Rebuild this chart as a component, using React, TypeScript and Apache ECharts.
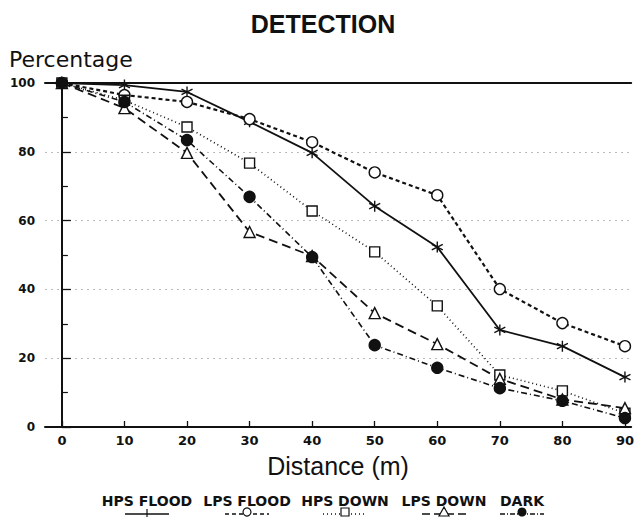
import React, { useEffect, useRef } from "react";
import * as echarts from "echarts";

const distances = [0, 10, 20, 30, 40, 50, 60, 70, 80, 90];
const hpsFlood = [100, 99.4, 97.4, 88.7, 79.7, 64.2, 52.3, 28.2, 23.5, 14.5];
const lpsFlood = [100, 96.5, 94.5, 89.5, 82.8, 74, 67.4, 40.1, 30.2, 23.5];
const hpsDown = [100, 95, 87.2, 76.7, 62.8, 50.9, 35.2, 15.1, 10.5, 4];
const lpsDown = [100, 92.7, 79.7, 56.7, 49.7, 33.1, 24.1, 14, 8, 5.5];
const dark = [100, 94.5, 83.4, 66.9, 49.4, 23.8, 17.2, 11.3, 7.6, 2.6];
const xTicks = [0, 10, 20, 30, 40, 50, 60, 70, 80, 90];
const seriesNames = ["HPS FLOOD", "LPS FLOOD", "HPS DOWN", "LPS DOWN", "DARK"];

const FONT = "'Liberation Sans', Arial, sans-serif";
const WIDE = "'DejaVu Sans', sans-serif";
const STAR = "path://M5,0 L5,10 M0.67,2.5 L9.33,7.5 M0.67,7.5 L9.33,2.5";

export default function App() {
  const ref = useRef<HTMLDivElement>(null);
  useEffect(() => {
    document.body.style.margin = "0";
    const chart = echarts.init(ref.current!, null, { renderer: "svg" });
    const pair = (arr: number[]) => distances.map((d, i) => [d, arr[i]]);
    const base = (name: string, arr: number[], lineType: any, width: number, symbol: string, size: number, fill: string) => ({
      name,
      type: "line",
      data: pair(arr),
      symbol,
      symbolSize: size,
      showAllSymbol: true,
      lineStyle: { color: "#111", width, type: lineType },
      itemStyle: { color: fill, borderColor: "#111", borderWidth: 1.4 },
      z: 3,
    });
    const legendX = [147, 247, 345, 444, 522];
    const legendDash: any[] = [null, [4, 3], [1, 3], [8, 4], [5, 2, 1, 2]];
    const legendSym = ["star", "circle", "rect", "tri", "dot"];
    const legendGraphics: any[] = [];
    seriesNames.forEach((n, i) => {
      const cx = legendX[i];
      legendGraphics.push({
        type: "text",
        x: cx,
        y: 501,
        style: { text: n, font: `bold 14px ${WIDE}`, fill: "#111", textAlign: "center", textVerticalAlign: "middle" },
      });
      legendGraphics.push({
        type: "line",
        shape: { x1: cx - 22, y1: 514, x2: cx + 22, y2: 514 },
        style: { stroke: "#111", lineWidth: 1.4, lineDash: legendDash[i] },
      });
      const s = legendSym[i];
      if (s === "circle") legendGraphics.push({ type: "circle", shape: { cx, cy: 512, r: 4 }, style: { fill: "#fff", stroke: "#111", lineWidth: 1.2 } });
      if (s === "dot") legendGraphics.push({ type: "circle", shape: { cx, cy: 512, r: 4.5 }, style: { fill: "#111" } });
      if (s === "rect") legendGraphics.push({ type: "rect", shape: { x: cx - 4, y: 508, width: 8, height: 8 }, style: { fill: "#fff", stroke: "#111", lineWidth: 1.2 } });
      if (s === "tri") legendGraphics.push({ type: "polygon", shape: { points: [[cx, 507], [cx - 5, 516], [cx + 5, 516]] }, style: { fill: "#fff", stroke: "#111", lineWidth: 1.2 } });
      if (s === "star") legendGraphics.push({ type: "line", shape: { x1: cx, y1: 509, x2: cx, y2: 519 }, style: { stroke: "#111", lineWidth: 1.2 } });
    });

    chart.setOption({
      animation: false,
      backgroundColor: "#fff",
      grid: { left: 45, right: 5, top: 83, bottom: 90, containLabel: false },
      xAxis: [
        {
          type: "value",
          min: -2.7,
          max: 91,
          name: "Distance (m)",
          nameLocation: "middle",
          nameGap: 26,
          nameTextStyle: { fontFamily: FONT, fontSize: 25, color: "#111" },
          axisLine: { show: true, onZero: false, lineStyle: { color: "#111", width: 2 } },
          axisTick: { show: true, inside: true, length: 6, customValues: xTicks, lineStyle: { color: "#111", width: 1.3 } },
          axisLabel: { customValues: xTicks, margin: 7, fontFamily: WIDE, fontWeight: "bold", fontSize: 13, color: "#111" },
          splitLine: { show: false },
        },
        {
          type: "value",
          position: "top",
          min: -2.7,
          max: 91,
          axisLine: { show: true, onZero: false, lineStyle: { color: "#111", width: 2 } },
          axisTick: { show: false },
          axisLabel: { show: false },
          splitLine: { show: false },
        },
      ],
      yAxis: {
        type: "value",
        min: 0,
        max: 100,
        interval: 20,
        axisLine: { show: true, lineStyle: { color: "#111", width: 2 } },
        axisTick: { show: true, inside: true, length: 9, lineStyle: { color: "#111", width: 1.3 } },
        minorTick: { show: true, splitNumber: 2, length: 6, lineStyle: { color: "#111", width: 1.2 } },
        axisLabel: { margin: 10, fontFamily: WIDE, fontWeight: "bold", fontSize: 12, color: "#111" },
        splitLine: { show: true, lineStyle: { color: "#bbb", type: [2, 4], width: 1 } },
      },
      graphic: [
        {
          type: "text",
          x: 323,
          y: 24,
          style: { text: "DETECTION", font: `bold 25px ${FONT}`, fill: "#111", textAlign: "center", textVerticalAlign: "middle" },
        },
        {
          type: "text",
          x: 9,
          y: 59,
          style: { text: "Percentage", font: `22px ${WIDE}`, fill: "#111", textVerticalAlign: "middle" },
        },
        ...legendGraphics,
      ],
      series: [
        base("HPS FLOOD", hpsFlood, "solid", 1.8, STAR, 11, "#111"),
        base("LPS FLOOD", lpsFlood, [4, 3], 2.2, "circle", 11, "#fff"),
        base("HPS DOWN", hpsDown, [1, 3], 1.6, "rect", 10, "#fff"),
        base("LPS DOWN", lpsDown, [9, 5], 1.8, "triangle", 11, "#fff"),
        base("DARK", dark, [6, 3, 1, 3], 1.6, "circle", 11, "#111"),
      ],
    });
    return () => chart.dispose();
  }, []);
  return <div ref={ref} style={{ width: 637, height: 517 }} />;
}
